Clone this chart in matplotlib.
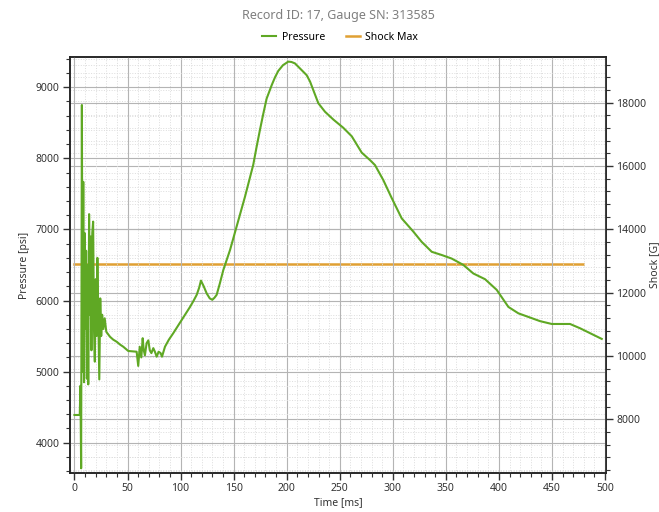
import matplotlib.pyplot as plt
from matplotlib.ticker import MultipleLocator

# Pressure trace (ms, psi)
time_ms = [0, 5, 5.6, 6.3, 7.0, 7.6, 8.3, 9.0, 9.6, 10.3, 11.0, 11.7, 12.4, 13.0,
           13.8, 14.5, 15.3, 16.0, 16.8, 17.6, 18.4, 19.2, 20.0, 20.8, 21.6, 22.5,
           23.4, 24.3, 25.2, 26.1, 27.2, 28.5, 30, 33.5, 36.5, 39.8, 43, 46, 50.7,
           54.5, 58.6, 60.1, 61.5, 63, 64.3, 65.3, 66.4, 68, 69.6, 71, 72.5, 74.3,
           75.8, 77.5, 79.3, 81.2, 82.5, 85.3, 89, 93.1, 97, 101, 105, 108.9, 112,
           115.2, 117.5, 119.2, 121.8, 124.6, 127.5, 129.9, 132, 134, 137, 140.3,
           143.5, 146.6, 150, 155, 160.7, 164.5, 168.5, 171.5, 174.8, 178, 181.1,
           185.9, 189, 192.1, 196.5, 201.5, 204.5, 207.8, 212.5, 218.8, 222, 225.1,
           229.8, 236.1, 244, 253.3, 261.3, 270.7, 278.5, 283.2, 291, 299, 308.4,
           319.3, 327.2, 336.7, 346.1, 355.5, 366.5, 375.9, 386.9, 397.9, 408.9,
           418.3, 429.3, 438.7, 449.8, 458, 467, 476.4, 486, 496.9]
pressure_psi = [4390, 4390, 4800, 3640, 8750, 5000, 7670, 4850, 6950, 5600, 6700,
                4900, 6500, 4820, 7215, 5800, 6900, 5300, 6950, 7110, 5600, 5140,
                6300, 5500, 6600, 5700, 4890, 6030, 5500, 5800, 5600, 5750, 5560,
                5490, 5450, 5420, 5380, 5350, 5290, 5285, 5280, 5080, 5350, 5200,
                5470, 5300, 5230, 5400, 5440, 5300, 5260, 5330, 5280, 5210, 5280,
                5260, 5210, 5350, 5450, 5540, 5630, 5725, 5820, 5910, 5990, 6080,
                6180, 6280, 6200, 6100, 6030, 6010, 6040, 6080, 6240, 6430, 6570,
                6710, 6890, 7150, 7460, 7680, 7910, 8150, 8400, 8630, 8840, 9030,
                9140, 9230, 9310, 9360, 9355, 9335, 9265, 9170, 9080, 8960, 8775,
                8655, 8545, 8430, 8310, 8080, 7975, 7905, 7695, 7440, 7155, 6970,
                6825, 6685, 6640, 6590, 6500, 6380, 6300, 6150, 5910, 5820, 5760,
                5710, 5670, 5670, 5670, 5610, 5540, 5460]

# Shock maximum (G) drawn across the record
shock_time = [0, 479]
shock_max = [12900, 12900]

GREEN = "#5fa824"
ORANGE = "#e0a033"
TEXT = "#333333"

plt.rcParams["font.family"] = ["Noto Sans", "DejaVu Sans"]

fig = plt.figure(figsize=(6.59, 5.12), dpi=100)
ax = fig.add_axes([70 / 659, 1 - 473 / 512, 536 / 659, 416 / 512])
ax2 = ax.twinx()
# keep the pressure trace above the shock axis
ax.set_zorder(ax2.get_zorder() + 1)
ax.patch.set_visible(False)

(l1,) = ax.plot(time_ms, pressure_psi, color=GREEN, lw=1.5, label="Pressure")
(l2,) = ax2.plot(shock_time, shock_max, color=ORANGE, lw=1.8, label="Shock Max")

ax.set_xlim(-4.2, 500.9)
ax.set_ylim(3574, 9425)
ax2.set_ylim(6304, 19443)

ax.xaxis.set_major_locator(MultipleLocator(50))
ax.xaxis.set_minor_locator(MultipleLocator(10))
ax.yaxis.set_major_locator(MultipleLocator(1000))
ax.yaxis.set_minor_locator(MultipleLocator(200))
ax2.yaxis.set_major_locator(MultipleLocator(2000))
ax2.yaxis.set_minor_locator(MultipleLocator(400))

for a in (ax, ax2):
    a.set_axisbelow(True)
    a.grid(which="major", color="#b4b4b4", lw=0.8)
    a.grid(which="minor", color="#dcdcdc", lw=0.7, ls=":")
    a.tick_params(which="major", length=5, width=1, color=TEXT,
                  labelsize=7.5, labelcolor=TEXT, pad=2.5)
    a.tick_params(which="minor", length=3, width=0.8, color=TEXT)
    for s in a.spines.values():
        s.set_color("#222222")
        s.set_linewidth(1.1)

ax.set_xlabel("Time [ms]", fontsize=7.5, color=TEXT, labelpad=2)
ax.set_ylabel("Pressure [psi]", fontsize=7.5, color=TEXT, labelpad=4)
ax2.set_ylabel("Shock [G]", fontsize=7.5, color=TEXT, labelpad=2)

fig.text(338 / 659, 1 - 15 / 512, "Record ID: 17, Gauge SN: 313585",
         ha="center", va="center", fontsize=9, color="#7f7f7f")
fig.legend(handles=[l1, l2], loc="center", bbox_to_anchor=(340 / 659, 1 - 37 / 512),
           ncol=2, frameon=False, fontsize=7.5, handlelength=1.4,
           columnspacing=2.0, handletextpad=0.5)

plt.savefig("out.png", dpi=100)
